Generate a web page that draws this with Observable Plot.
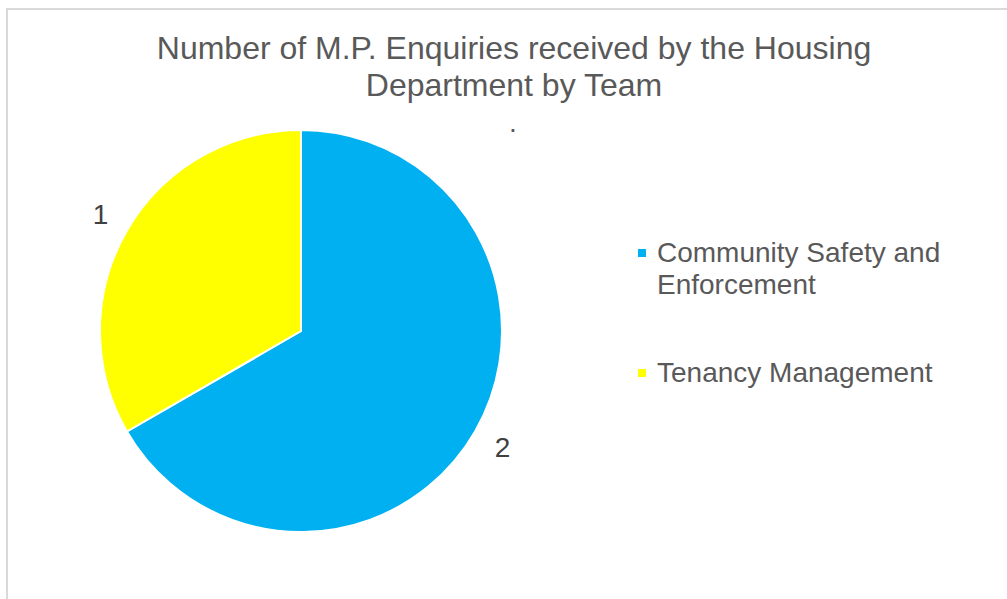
<!DOCTYPE html>
<html>
<head>
<meta charset="utf-8">
<script src="https://cdn.jsdelivr.net/npm/d3@7"></script>
<script src="https://cdn.jsdelivr.net/npm/@observablehq/plot@0.6"></script>
<style>
  html, body { margin: 0; padding: 0; background: #fff; }
  #page { position: relative; width: 1007px; height: 599px; overflow: hidden; font-family: "Liberation Sans", Arial, sans-serif; color: #595959; }
  #frame { position: absolute; left: 6px; top: 8px; width: 1100px; height: 700px; border-left: 2px solid #d9d9d9; border-top: 2px solid #d9d9d9; }
  #chart { position: absolute; left: 0; top: 0; }
  #title { position: absolute; left: 0; top: 30px; width: 1028px; text-align: center; font-size: 32px; line-height: 37px; }
  #dot { position: absolute; left: 509px; top: 107px; font-size: 28px; line-height: 32px; }
  .leg { position: absolute; left: 657px; font-size: 28px; line-height: 32px; white-space: nowrap; }
  .sw { position: absolute; left: 638px; width: 8px; height: 8px; }
</style>
</head>
<body>
<div id="page">
  <div id="frame"></div>
  <div id="chart"></div>
  <div id="title"></div>
  <div id="dot">.</div>
  <div id="legend"></div>
</div>
<script>
const titleLines = ["Number of M.P. Enquiries received by the Housing", "Department by Team"];
const teams = ["Community Safety and Enforcement", "Tenancy Management"];
const legendLines = [["Community Safety and", "Enforcement"], ["Tenancy Management"]];
const counts = [2, 1];
const colors = ["#00b0f0", "#ffff00"];

const data = teams.map((t, i) => ({team: t, count: counts[i]}));

// pie geometry in unit-radius data space (angles clockwise from 12 o'clock)
const arcs = d3.pie().sort(null).value(d => d.count)(data);
const labelR = 1.155;
const labels = arcs.map(a => {
  const m = (a.startAngle + a.endAngle) / 2;
  return {x: labelR * Math.sin(m), y: labelR * Math.cos(m), text: String(a.data.count)};
});

const cx = 301, cy = 331, R = 201, W = 1007, H = 599;

function pieMark(index, scales, values, dimensions, context) {
  const x0 = scales.x(0), y0 = scales.y(0);
  const r = scales.x(1) - scales.x(0);
  const g = d3.create("svg:g").attr("transform", `translate(${x0},${y0})`);
  const arcGen = d3.arc().innerRadius(0).outerRadius(r);
  g.selectAll("path")
    .data(arcs)
    .join("path")
    .attr("d", arcGen)
    .attr("fill", d => scales.color(d.data.team))
    .attr("stroke", "#fff")
    .attr("stroke-width", 2)
    .attr("stroke-linejoin", "round");
  return g.node();
}

const plot = Plot.plot({
  width: W,
  height: H,
  margin: 0,
  x: {domain: [-cx / R, (W - cx) / R], axis: null},
  y: {domain: [(cy - H) / R, cy / R], axis: null},
  color: {domain: teams, range: colors},
  style: {background: "transparent", fontFamily: "Liberation Sans, Arial, sans-serif"},
  marks: [
    Plot.dot(data, {x: () => 0, y: () => 0, fill: "team", r: 0}),
    pieMark,
    Plot.text(labels, {x: "x", y: "y", text: "text", fontSize: 28, fill: "#404040", textAnchor: "middle", lineAnchor: "middle"})
  ]
});
document.getElementById("chart").appendChild(plot);

document.getElementById("title").innerHTML = titleLines.join("<br>");

const legend = document.getElementById("legend");
const legTops = [237, 357];
legendLines.forEach((lines, i) => {
  const t = document.createElement("div");
  t.className = "leg";
  t.style.top = legTops[i] + "px";
  t.innerHTML = lines.join("<br>");
  legend.appendChild(t);
  const s = document.createElement("div");
  s.className = "sw";
  s.style.top = (legTops[i] + 12) + "px";
  s.style.background = colors[i];
  legend.appendChild(s);
});
</script>
</body>
</html>
